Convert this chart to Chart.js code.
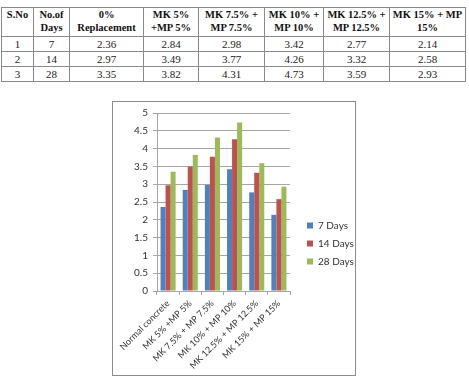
<!DOCTYPE html>
<html><head><meta charset="utf-8">
<script src="https://cdn.jsdelivr.net/npm/chart.js@4"></script>
<style>
html,body{margin:0;padding:0;background:#fff;}
#tbl{position:absolute;left:1px;top:7px;width:465px;border-collapse:collapse;table-layout:fixed;font-family:"Liberation Serif",serif;font-size:11px;color:#222;}
#tbl td,#tbl th{border:1px solid #8a8a8a;padding:0;text-align:center;overflow:hidden;white-space:nowrap;}
#tbl th{font-weight:bold;font-size:10.5px;vertical-align:top;line-height:13px;height:28px;color:#111;}
#tbl td{height:14px;line-height:14px;vertical-align:middle;}
#box{position:absolute;left:112px;top:101px;width:242px;height:273px;border:1px solid #8c8c8c;}
#c{position:absolute;left:0;top:0;}
</style></head>
<body>
<table id="tbl"><colgroup id="cols"></colgroup><thead><tr id="hdr"></tr></thead><tbody id="tb"></tbody></table>
<div id="box"><canvas id="c" width="242" height="273"></canvas></div>
<script>
const tableHeaders = ["S.No", "No.of|Days", "0%|Replacement", "MK 5%|+MP 5%", "MK 7.5% +|MP 7.5%", "MK 10% +|MP 10%", "MK 12.5% +|MP 12.5%", "MK 15% + MP|15%"];
const serialNo = [1, 2, 3];
const ageDays = [7, 14, 28];
const categories = ["Normal concrete", "MK 5% +MP 5%", "MK 7.5% + MP 7.5%", "MK 10% + MP 10%", "MK 12.5% + MP 12.5%", "MK 15% + MP 15%"];
const seriesLabels = ["7 Days", "14 Days", "28 Days"];
const days7 = [2.36, 2.84, 2.98, 3.42, 2.77, 2.14];
const days14 = [2.97, 3.49, 3.77, 4.26, 3.32, 2.58];
const days28 = [3.35, 3.82, 4.31, 4.73, 3.59, 2.93];
const seriesValues = [days7, days14, days28];
const colWidths = [32, 36, 74, 55, 66, 59, 66, 76];
const colors = ['#4F81BD', '#C0504D', '#9BBB59'];

// table
const cols = document.getElementById('cols');
colWidths.forEach(w => { const c = document.createElement('col'); c.style.width = w + 'px'; cols.appendChild(c); });
const hdr = document.getElementById('hdr');
tableHeaders.forEach(h => {
  const th = document.createElement('th');
  h.split('|').forEach((line, i) => { if (i) th.appendChild(document.createElement('br')); th.appendChild(document.createTextNode(line)); });
  hdr.appendChild(th);
});
const tb = document.getElementById('tb');
serialNo.forEach((s, r) => {
  const tr = document.createElement('tr');
  const cells = [String(s), String(ageDays[r])].concat(seriesValues[r].map(v => v.toFixed(2)));
  cells.forEach(t => { const td = document.createElement('td'); td.textContent = t; tr.appendChild(td); });
  tb.appendChild(tr);
});

// chart
const font = {family: 'Lato', size: 10};
const xFont = {family: 'Lato', size: 9};
const gridCol = '#a6a6a6';
new Chart(document.getElementById('c'), {
  type: 'bar',
  data: {
    labels: categories,
    datasets: seriesLabels.map((l, i) => ({label: l, data: seriesValues[i], backgroundColor: colors[i], borderWidth: 0}))
  },
  options: {
    responsive: false, animation: false, devicePixelRatio: 1,
    layout: {padding: {top: 10, left: 0, right: 0, bottom: 0}},
    datasets: {bar: {categoryPercentage: 0.68, barPercentage: 1}},
    plugins: {
      legend: {position: 'right', maxWidth: 56, labels: {boxWidth: 6, boxHeight: 6, padding: 8, font: font, color: '#333'}},
      tooltip: {enabled: false}
    },
    scales: {
      x: {
        grid: {display: true, drawOnChartArea: false, tickLength: 4, color: gridCol, offset: true},
        border: {color: gridCol},
        ticks: {autoSkip: false, minRotation: 45, maxRotation: 45, font: xFont, color: '#333', padding: 3},
        afterFit(s) { s.height = 84; }
      },
      y: {
        min: 0, max: 5,
        grid: {color: gridCol, tickLength: 4},
        border: {color: gridCol},
        ticks: {stepSize: 0.5, font: font, color: '#333', padding: 5, callback: v => String(v)},
        afterFit(s) { s.width = 44; }
      },
      gap: {
        type: 'linear', position: 'right', display: true,
        grid: {display: false}, border: {display: false}, ticks: {display: false},
        afterFit(s) { s.width = 9; }
      }
    }
  }
});
</script>
</body></html>
